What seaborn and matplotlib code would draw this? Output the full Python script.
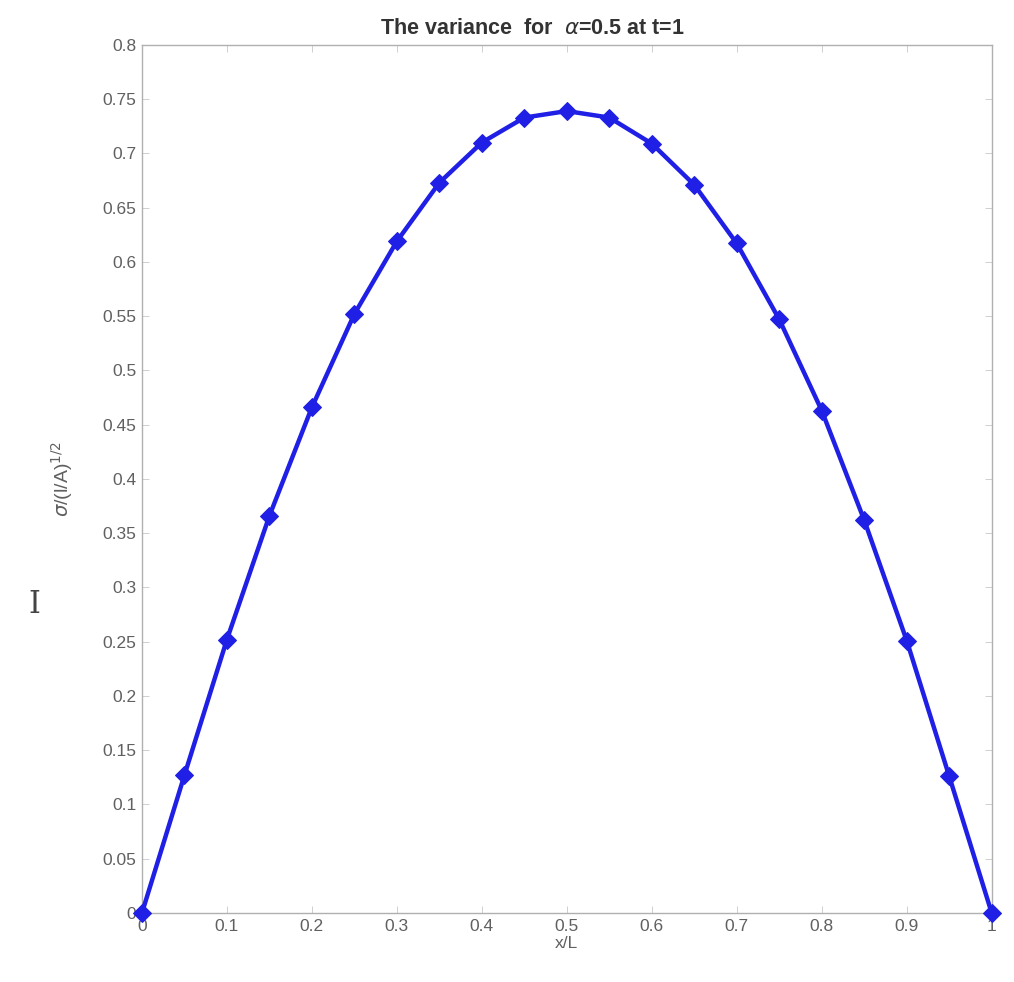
import numpy as np
import pandas as pd
import matplotlib
matplotlib.use('Agg')
import matplotlib.pyplot as plt
import seaborn as sns

sns.set_style('ticks')
plt.rcParams['font.family'] = ['Liberation Sans', 'DejaVu Sans']

# posiciones x/L y varianza normalizada
x_pos = [0.0, 0.05, 0.1, 0.15, 0.2, 0.25, 0.3, 0.35, 0.4, 0.45, 0.5,
         0.55, 0.6, 0.65, 0.7, 0.75, 0.8, 0.85, 0.9, 0.95, 1.0]
varianza = [0.0, 0.127, 0.252, 0.366, 0.466, 0.552, 0.619, 0.673, 0.710, 0.733, 0.739,
            0.733, 0.709, 0.671, 0.617, 0.547, 0.463, 0.362, 0.251, 0.126, 0.0]

df = pd.DataFrame({'x': x_pos, 'var': varianza})

fig = plt.figure(figsize=(10.14, 9.82), dpi=100)
ax = fig.add_axes([0.14, 0.0703, 0.838, 0.884])

sns.lineplot(data=df, x='x', y='var', ax=ax, color='#1f1fe6', linewidth=3.2,
             marker='D', markersize=9, markeredgecolor='#1f1fe6',
             markerfacecolor='#1f1fe6', clip_on=False, zorder=5)

ax.set_xlim(0, 1)
ax.set_ylim(0, 0.8)
ax.set_xticks(np.arange(0, 1.01, 0.1))
ax.set_yticks(np.arange(0, 0.801, 0.05))
ax.set_xticklabels(['0', '0.1', '0.2', '0.3', '0.4', '0.5', '0.6', '0.7', '0.8', '0.9', '1'])
ax.set_yticklabels(['0', '0.05', '0.1', '0.15', '0.2', '0.25', '0.3', '0.35', '0.4',
                    '0.45', '0.5', '0.55', '0.6', '0.65', '0.7', '0.75', '0.8'])
ax.tick_params(direction='in', top=True, right=True, length=5, width=0.6,
               colors='#c8c8c8', labelcolor='#606060', labelsize=12.5, pad=4)
for s in ax.spines.values():
    s.set_color('#b0b0b0')
    s.set_linewidth(1.0)

ax.set_title('The variance  for  $\\alpha$=0.5 at t=1', fontsize=15.5, fontweight='bold',
             color='#333333', pad=8, x=0.459)
ax.set_xlabel('x/L', fontsize=12.5, color='#606060', labelpad=2)
ax.set_ylabel('$\\sigma$/(l/A)$^{1/2}$', fontsize=14, color='#606060', labelpad=20)

# cursor de texto que aparece en la captura
fig.text(0.034, 0.384, 'I', fontsize=22, family='DejaVu Serif', color='#444444',
         ha='center', va='center')

fig.savefig('out.png', dpi=100)
